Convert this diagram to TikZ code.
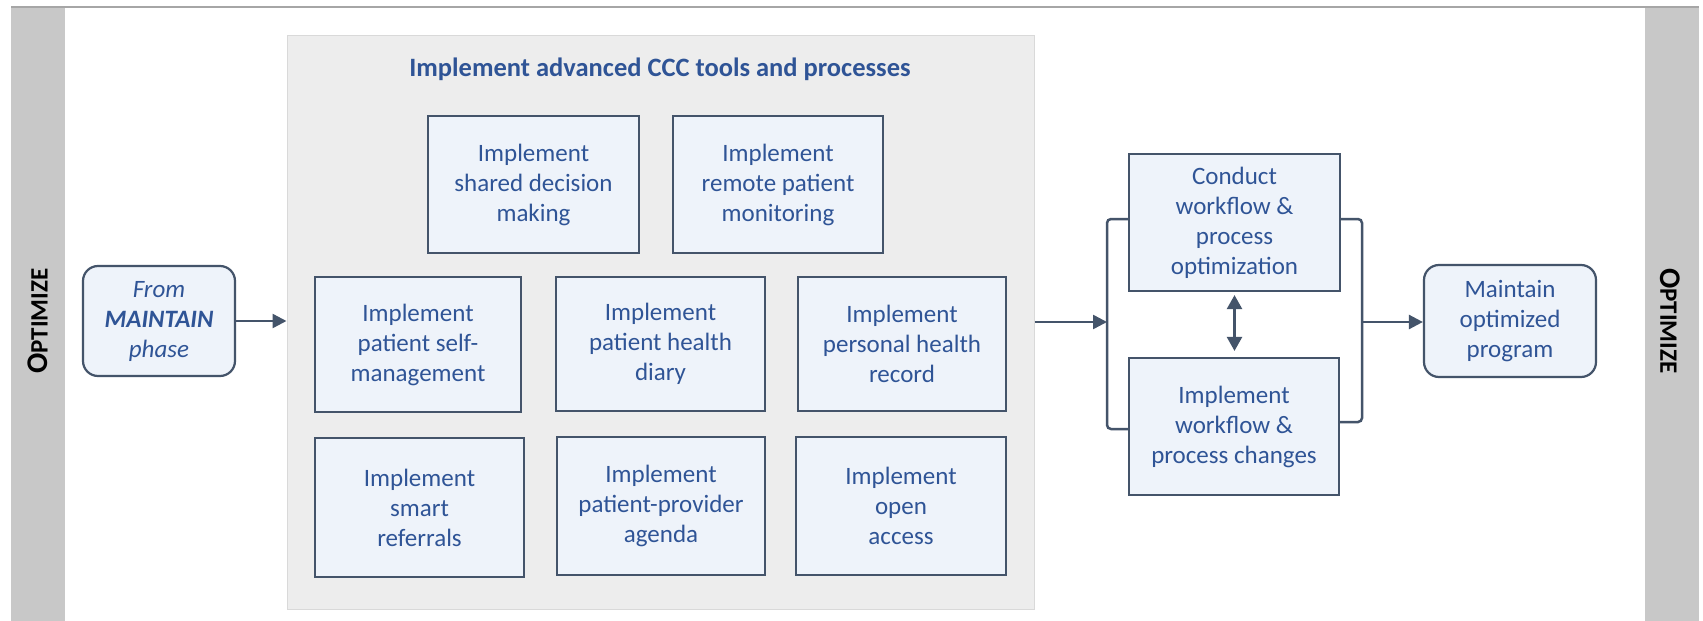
\documentclass[tikz,border=0pt]{standalone}
\usepackage{fontspec}
\setmainfont{Carlito}
\usetikzlibrary{arrows.meta,calc}
\definecolor{boxfill}{HTML}{EEF3FA}
\definecolor{boxline}{HTML}{44546A}
\definecolor{txtblue}{HTML}{2F5496}
\definecolor{panelfill}{HTML}{EDEDED}
\definecolor{panelline}{HTML}{D9D9D9}
\definecolor{bandgray}{HTML}{C8C8C8}
\definecolor{toplinec}{HTML}{A6A6A6}
\tikzset{
  stepbox/.style={draw=boxline, line width=2.2pt, fill=boxfill, text=txtblue, align=center,
    inner sep=0pt, font=\fontsize{25pt}{30pt}\selectfont},
  roundbox/.style={stepbox, rounded corners=15pt},
  arr/.style={draw=boxline, line width=2.5pt, -{Triangle[length=14pt,width=14pt]}},
  dblarr/.style={draw=boxline, line width=2.5pt, {Triangle[length=14pt,width=15pt]}-{Triangle[length=14pt,width=15pt]}},
  conn/.style={draw=boxline, line width=2.5pt, rounded corners=4pt},
  phaselabel/.style={font=\bfseries\fontsize{30pt}{30pt}\selectfont, text=black, inner sep=0pt},
}
\newcommand{\optimizeword}{O{\fontsize{25pt}{25pt}\selectfont PTIMIZE}}
\begin{document}
\begin{tikzpicture}[x=1pt,y=-1pt]
\useasboundingbox (0,0) rectangle (1703,621);
\fill[white] (0,0) rectangle (1703,621);
% side bands and top rule
\fill[bandgray] (11,7) rectangle (65,621);
\fill[bandgray] (1645,7) rectangle (1699,621);
\draw[toplinec, line width=2pt] (11,7) -- (1699,7);
\node[phaselabel, rotate=90] (optL) at (38,321) {\optimizeword};
\node[phaselabel, rotate=-90] (optR) at (1670,321) {\optimizeword};

% panel
\node[draw=panelline, line width=1pt, fill=panelfill, minimum width=747pt, minimum height=574pt, inner sep=0pt] (panel) at (660.5,322) {};
\node[font=\bfseries\fontsize{26.5pt}{30pt}\selectfont, text=txtblue, anchor=base, inner sep=0pt] (title) at (660,76) {Implement advanced CCC tools and processes};

% panel boxes
\node[stepbox, minimum width=211pt, minimum height=137pt] (A) at (533.5,184.5) {Implement\\shared decision\\making};
\node[stepbox, minimum width=210pt, minimum height=137pt] (B) at (778,184.5) {Implement\\remote patient\\monitoring};
\node[stepbox, minimum width=206pt, minimum height=135pt] (C) at (418,344.5) {Implement\\patient self-\\management};
\node[stepbox, minimum width=209pt, minimum height=134pt] (D) at (660.5,344) {Implement\\patient health\\diary};
\node[stepbox, minimum width=208pt, minimum height=134pt] (E) at (902,344) {Implement\\personal health\\record};
\node[stepbox, minimum width=209pt, minimum height=139pt] (F) at (419.5,507.5) {Implement\\smart\\referrals};
\node[stepbox, minimum width=208pt, minimum height=138pt] (G) at (661,506) {Implement\\patient-provider\\agenda};
\node[stepbox, minimum width=210pt, minimum height=138pt] (H) at (901,506) {Implement\\open\\access};

% left start box
\node[roundbox, font=\fontsize{25pt}{30pt}\selectfont\itshape, minimum width=152pt, minimum height=110pt] (from) at (159,321) {From\\\textbf{MAINTAIN}\\phase};

% right side boxes
\node[stepbox, minimum width=211pt, minimum height=137pt] (I) at (1234.5,222.5) {Conduct\\workflow \&\\process\\optimization};
\node[stepbox, minimum width=210pt, minimum height=137pt] (J) at (1234,426.5) {Implement\\workflow \&\\process changes};
\node[roundbox, minimum width=172pt, minimum height=112pt] (maint) at (1510,321) {Maintain\\optimized\\program};

\coordinate (inL) at (1107,322);
\coordinate (outR) at (1362,322);
\coordinate (Iw) at ([yshift=3.5pt]I.west);
\coordinate (Ie) at ([yshift=3.5pt]I.east);
\coordinate (Jw) at ([yshift=-2.5pt]J.west);
\coordinate (Je) at ([yshift=4.5pt]J.east);

% connectors
\draw[arr] (from.east) -- (from.east -| panel.west);
\draw[arr] (panel.east |- inL) -- (inL);
\draw[conn] (Iw) -- (inL |- Iw) -- (inL |- Jw) -- (Jw);
\draw[conn] (Ie) -- (outR |- Ie) -- (outR |- Je) -- (Je);
\draw[arr] (outR) -- (outR -| maint.west);
\draw[dblarr, shorten <=3pt, shorten >=6pt] (I.south) -- (I.south |- J.north);
\end{tikzpicture}
\end{document}
